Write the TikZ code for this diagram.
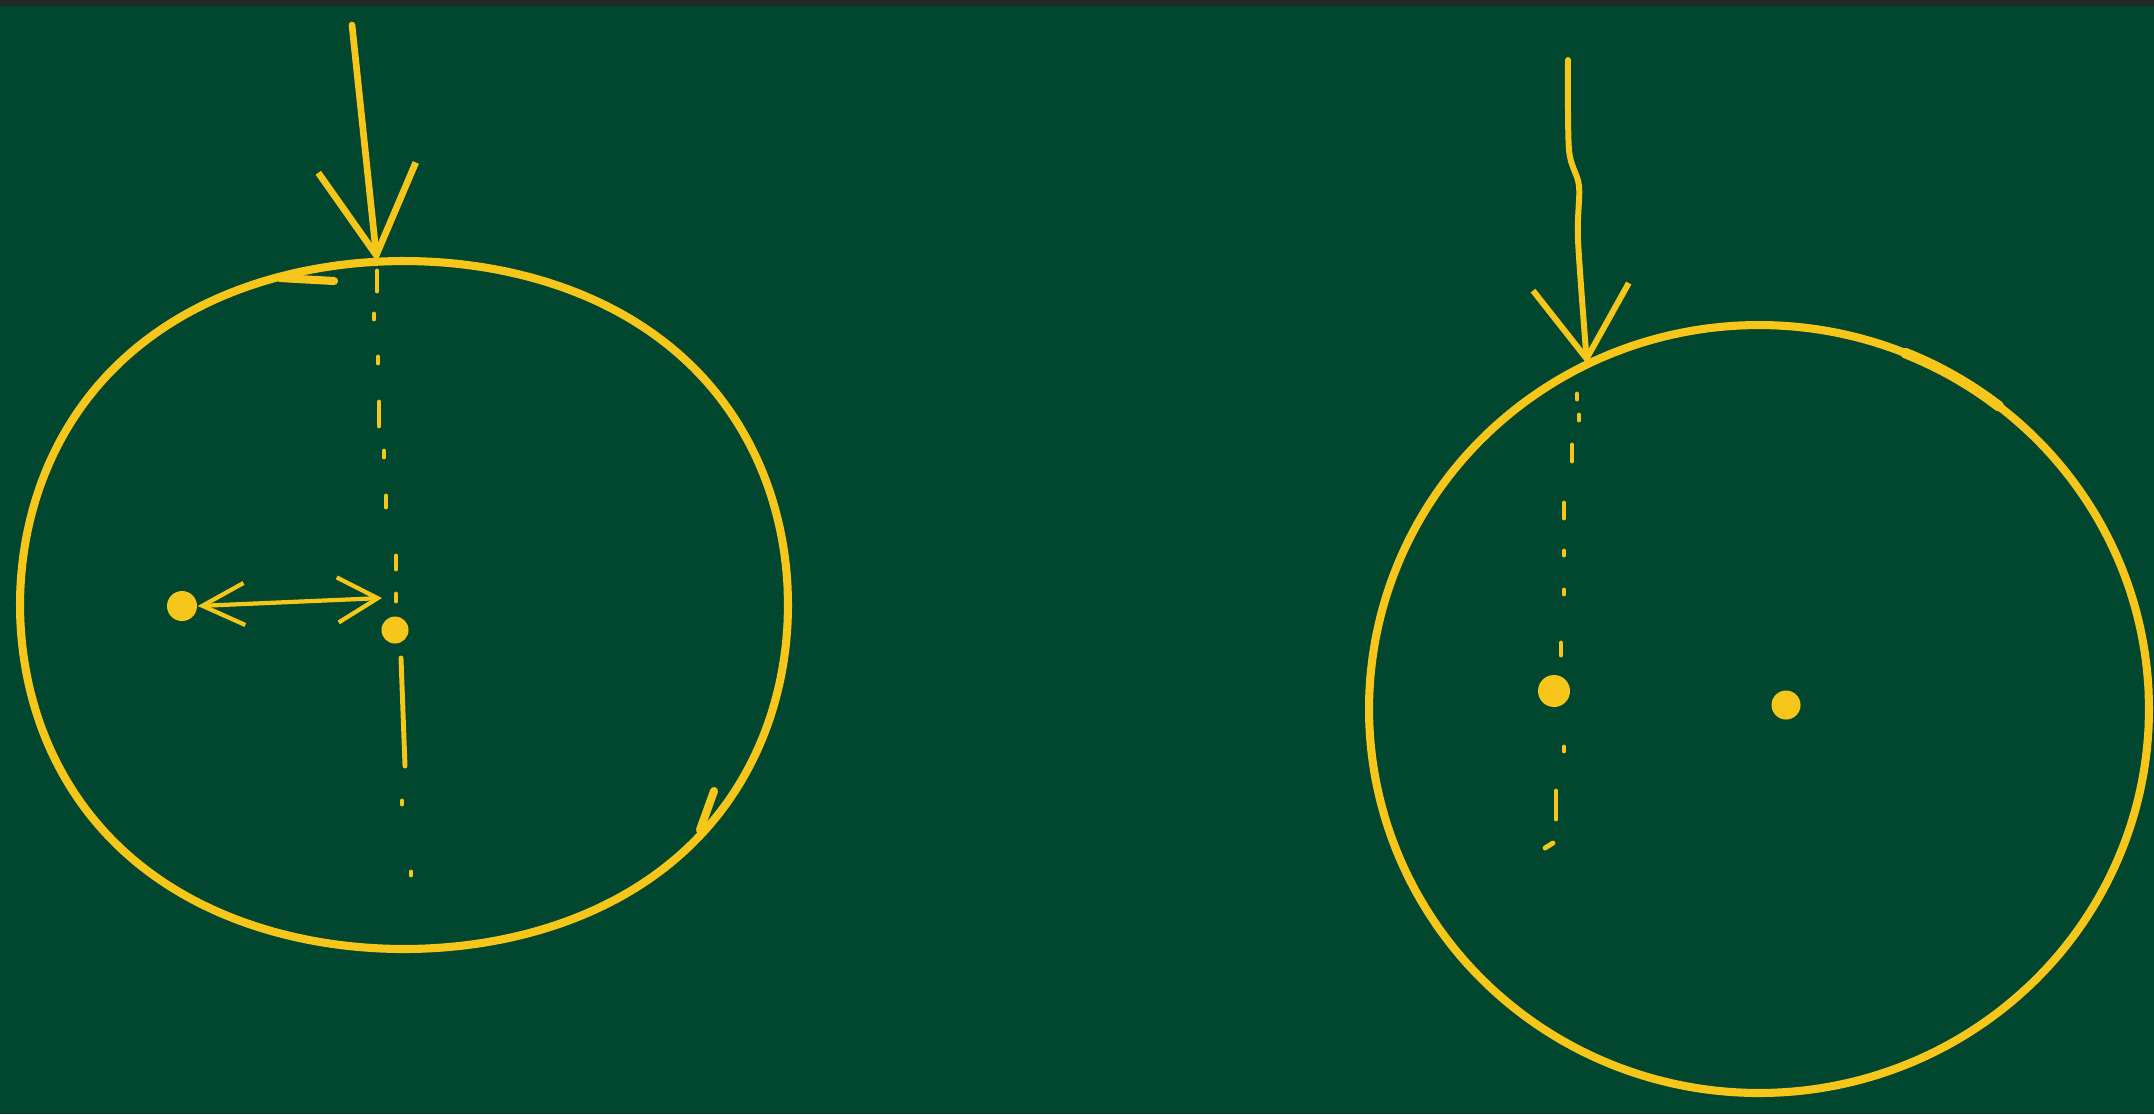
\documentclass[tikz,border=0pt]{standalone}
\usepackage{xcolor}
\usepackage{tikz}
\usetikzlibrary{arrows.meta}
\usetikzlibrary{positioning}

\definecolor{lavagna}{HTML}{01472F}
\definecolor{bordo}{HTML}{1E2B27}
\definecolor{gesso}{HTML}{F6C71A}

\tikzset{
    cerchio/.style={draw=gesso, line width=2.3pt, line cap=round, line join=round},
    freccia/.style={draw=gesso, line width=1.9pt, line cap=round},
    trattino/.style={draw=gesso, line width=1.4pt, line cap=round},
    punto/.style={circle, fill=gesso, inner sep=0pt, minimum size=0.3cm}
}

\begin{document}
\begin{tikzpicture}[x=0.01cm, y=-0.01cm]
        % Lavagna
        \fill[lavagna] (0,0) rectangle (2154,1114);
        \fill[bordo] (0,0) rectangle (2154,6);
        \useasboundingbox (0,0) rectangle (2154,1114);

        % Cerchio sinistro
        \draw[cerchio] plot[domain=0:360, samples=120, smooth cycle]
            ({404 + 388*cos(\x) - 4*cos(3*\x)}, {605 + 348*sin(\x) + 4*sin(3*\x)});
        \draw[cerchio] (280,278) -- (334,281);
        \draw[cerchio] (714,791) -- (700,830);

        % Freccia sinistra
        \coordinate (ta) at (352,25);
        \coordinate (pa) at (377,262);
        \draw[freccia, -{Straight Barb[length=0.88cm, width=0.98cm]}] (ta) -- (pa);

        % Linea tratteggiata sinistra
        \foreach \x/\y/\l in {377/271/20, 374/314/5, 378/357/6, 379/402/24,
                              384/451/6, 386/496/11, 396/556/13, 396/594/7,
                              402/801/3, 411/872/3}
            \draw[trattino] (\x,\y) -- ++(0,\l);
        \draw[trattino] (401,658) -- (405,766);

        % Punti ed etichette
        \node[punto] (qa) at (182,606) {};
        \node[punto, minimum size=0.27cm] (ca) at (395,630) {};
        \coordinate (ra) at (382,598);
        \draw[trattino, line width=1.2pt,
            {Straight Barb[length=0.42cm, width=0.42cm]}-{Straight Barb[length=0.4cm, width=0.45cm]}]
            (qa.east) -- (ra);

        % Cerchio destro
        \draw[cerchio] plot[domain=0:360, samples=120, smooth cycle]
            ({1759 + 390*cos(\x)}, {709 + 384*sin(\x)});
        \draw[cerchio, line width=3pt] plot[domain=-68:-52, samples=8, smooth]
            ({1759 + 390*cos(\x)}, {709 + 384*sin(\x)});

        % Freccia destra
        \coordinate (tb) at (1568,60);
        \coordinate (pb) at (1587,364);
        \draw[freccia, line width=1.7pt, -{Straight Barb[length=0.72cm, width=0.96cm]}]
            plot[smooth, tension=0.5] coordinates {(tb) (1569,150) (1579,186) (1578,240) (pb)};

        % Linea tratteggiata destra
        \foreach \x/\y/\l in {1577/394/5, 1579/415/5, 1572/445/16, 1564/503/15,
                              1564/551/4, 1564/590/4, 1561/643/12, 1564/747/4,
                              1556/791/28}
            \draw[trattino] (\x,\y) -- ++(0,\l);
        \draw[trattino] (1545,848) -- (1553,843);

        % Punti
        \node[punto, minimum size=0.32cm] (qb) at (1554,691) {};
        \node[punto, minimum size=0.29cm] (cb) at (1786,705) {};
    \end{tikzpicture}
\end{document}
